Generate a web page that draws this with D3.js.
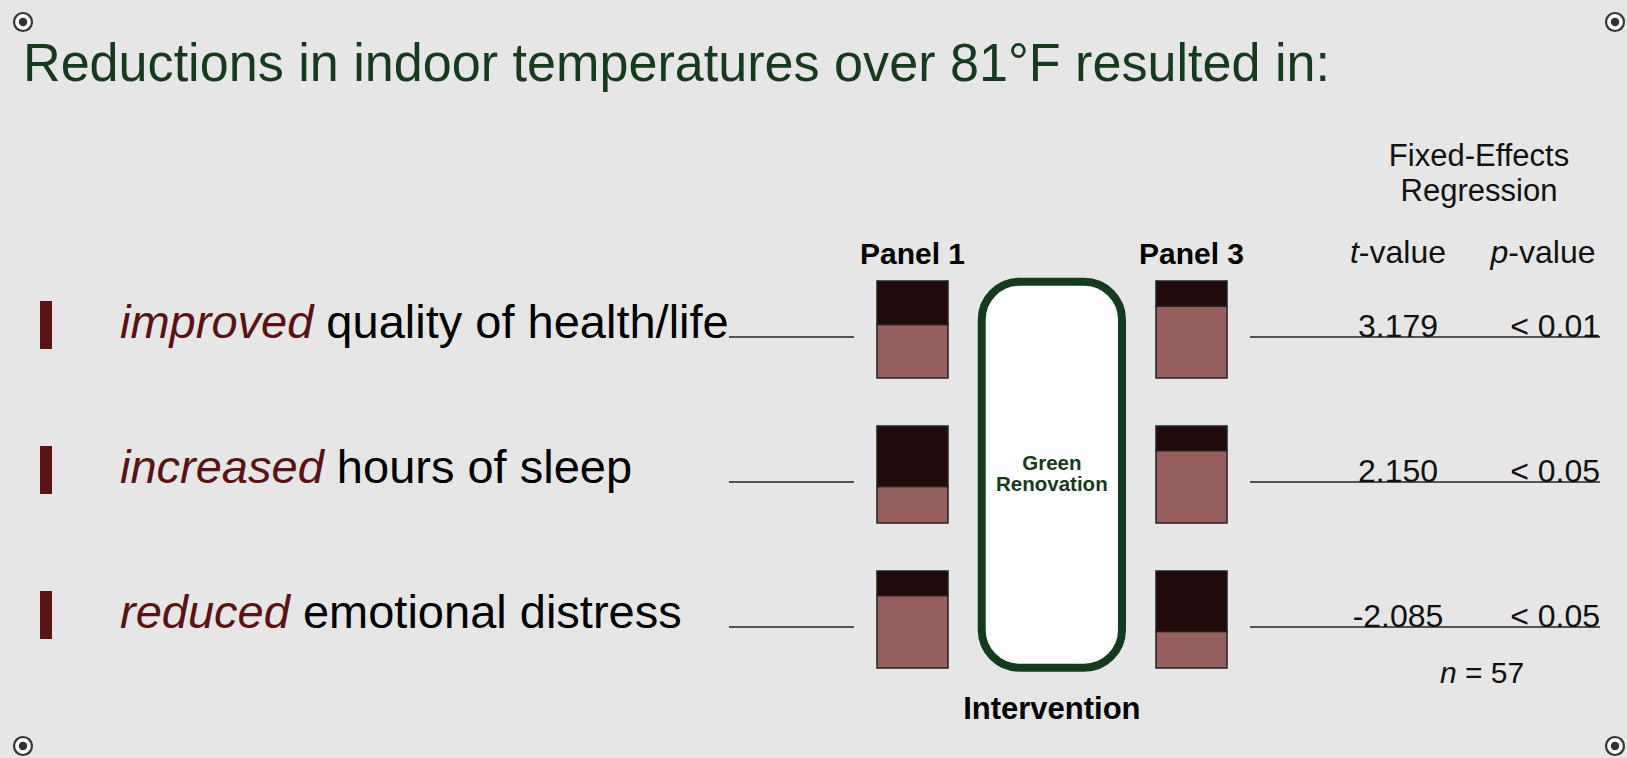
<!DOCTYPE html>
<html>
<head>
<meta charset="utf-8">
<script src="https://cdn.jsdelivr.net/npm/d3@7"></script>
<style>
  html, body { margin: 0; padding: 0; background: #e6e6e6; }
  svg { display: block; }
  text { font-family: Arial, "Liberation Sans", sans-serif; }
</style>
</head>
<body>
<svg id="chart" width="1627" height="758"></svg>
<script>
// ---- data ----
const title = "Reductions in indoor temperatures over 81°F resulted in:";
const outcomes = ["health", "sleep", "distress"];
const verbs = ["improved", "increased", "reduced"];
const phrases = [" quality of health/life", " hours of sleep", " emotional distress"];
const panels = ["Panel 1", "Panel 3"];
// share of the lower (light) segment of each bar
const panel1Values = [0.55, 0.375, 0.745];
const panel3Values = [0.74, 0.745, 0.375];
const tValues = ["3.179", "2.150", "-2.085"];
const pValues = ["< 0.01", "< 0.05", "< 0.05"];
const interventionLines = ["Green", "Renovation"];
const tableHeader = ["Fixed-Effects", "Regression"];
const sampleSize = 57;

// ---- layout ----
const W = 1627, H = 758;
const svg = d3.select("#chart");
svg.append("rect").attr("width", W).attr("height", H).attr("fill", "#e6e6e6");

const rowY = d3.scalePoint().domain(outcomes).range([337, 627]);
const panelX = d3.scalePoint().domain(panels).range([912.5, 1191.5]);
const barW = 71, barH = 97, barTopOff = -56;
const hScale = d3.scaleLinear().domain([0, 1]).range([0, barH]);

const darkGreen = "#163a1d";
const maroon = "#5a1313";

// corner markers
const corners = [[23, 22], [1615, 22], [23, 746], [1615, 746]];
const cg = svg.append("g");
corners.forEach(([x, y]) => {
  cg.append("circle").attr("cx", x).attr("cy", y).attr("r", 9)
    .attr("fill", "#fff").attr("stroke", "#333").attr("stroke-width", 2.2);
  cg.append("circle").attr("cx", x).attr("cy", y).attr("r", 4.2).attr("fill", "#333");
});

// title
svg.append("text").attr("x", 23).attr("y", 81)
  .attr("font-size", 53).attr("fill", darkGreen)
  .attr("textLength", 1307).attr("lengthAdjust", "spacingAndGlyphs")
  .text(title);

// rows: bullets, labels, connector lines
outcomes.forEach((o, i) => {
  const y = rowY(o);
  svg.append("rect").attr("x", 40).attr("y", y - 36).attr("width", 12).attr("height", 48)
    .attr("fill", maroon);
  const t = svg.append("text").attr("x", 120).attr("y", y + 1).attr("font-size", 47).attr("fill", "#000");
  t.append("tspan").attr("font-style", "italic").attr("fill", maroon).text(verbs[i]);
  t.append("tspan").text(phrases[i]);
  svg.append("line").attr("x1", 729).attr("x2", 854).attr("y1", y).attr("y2", y)
    .attr("stroke", "#222").attr("stroke-width", 1.6);
  svg.append("line").attr("x1", 1250).attr("x2", 1600).attr("y1", y).attr("y2", y)
    .attr("stroke", "#222").attr("stroke-width", 1.6);
});

// intervention box
const boxX1 = 981.7, boxX2 = 1122, boxY1 = 281.7, boxY2 = 667.7;
svg.append("rect").attr("x", boxX1).attr("y", boxY1)
  .attr("width", boxX2 - boxX1).attr("height", boxY2 - boxY1)
  .attr("rx", 38).attr("ry", 38)
  .attr("fill", "#fff").attr("stroke", darkGreen).attr("stroke-width", 8);
const boxCx = (boxX1 + boxX2) / 2;
const gr = svg.append("text").attr("x", boxCx).attr("y", 470)
  .attr("text-anchor", "middle").attr("font-size", 20.5).attr("font-weight", "bold")
  .attr("fill", darkGreen);
interventionLines.forEach((s, i) => {
  gr.append("tspan").attr("x", boxCx).attr("dy", i === 0 ? 0 : 20.5).text(s);
});
svg.append("text").attr("x", boxCx).attr("y", 719).attr("text-anchor", "middle")
  .attr("font-size", 31).attr("font-weight", "bold").attr("fill", "#000").text("Intervention");

// panel labels
panels.forEach(p => {
  svg.append("text").attr("x", panelX(p)).attr("y", 264).attr("text-anchor", "middle")
    .attr("font-size", 30).attr("font-weight", "bold").attr("fill", "#000").text(p);
});

// bars
const barData = [];
outcomes.forEach((o, i) => {
  barData.push({ panel: panels[0], row: o, v: panel1Values[i] });
  barData.push({ panel: panels[1], row: o, v: panel3Values[i] });
});
const bg = svg.append("g");
barData.forEach(d => {
  const x = panelX(d.panel) - barW / 2;
  const top = rowY(d.row) + barTopOff;
  const lightH = hScale(d.v);
  bg.append("rect").attr("x", x).attr("y", top).attr("width", barW).attr("height", barH - lightH)
    .attr("fill", "#200a0c").attr("stroke", "#222").attr("stroke-width", 1.5);
  bg.append("rect").attr("x", x).attr("y", top + barH - lightH).attr("width", barW).attr("height", lightH)
    .attr("fill", "#985f5f").attr("stroke", "#222").attr("stroke-width", 1.5);
});

// regression table
tableHeader.forEach((s, i) => {
  svg.append("text").attr("x", 1479).attr("y", 166 + i * 35).attr("text-anchor", "middle")
    .attr("font-size", 31).attr("fill", "#111").text(s);
});
const tv = svg.append("text").attr("x", 1398).attr("y", 263).attr("text-anchor", "middle")
  .attr("font-size", 32).attr("fill", "#111");
tv.append("tspan").attr("font-style", "italic").text("t");
tv.append("tspan").text("-value");
const pv = svg.append("text").attr("x", 1543).attr("y", 263).attr("text-anchor", "middle")
  .attr("font-size", 32).attr("fill", "#111");
pv.append("tspan").attr("font-style", "italic").text("p");
pv.append("tspan").text("-value");
outcomes.forEach((o, i) => {
  const y = rowY(o);
  svg.append("text").attr("x", 1398).attr("y", y).attr("text-anchor", "middle")
    .attr("font-size", 32).attr("fill", "#111").text(tValues[i]);
  svg.append("text").attr("x", 1600).attr("y", y).attr("text-anchor", "end")
    .attr("font-size", 32).attr("fill", "#111").text(pValues[i]);
});
const nt = svg.append("text").attr("x", 1482).attr("y", 683).attr("text-anchor", "middle")
  .attr("font-size", 30).attr("fill", "#111");
nt.append("tspan").attr("font-style", "italic").text("n");
nt.append("tspan").text(" = " + sampleSize);
</script>
</body>
</html>
